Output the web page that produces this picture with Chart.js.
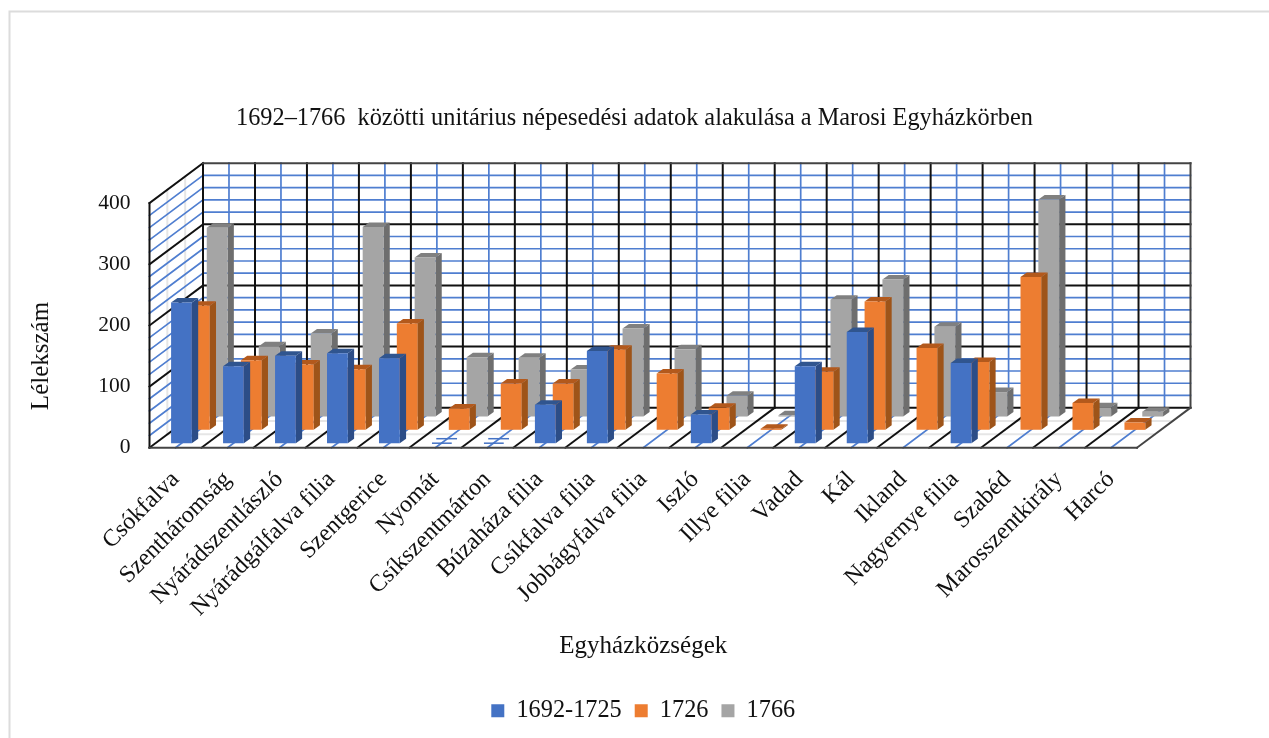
<!DOCTYPE html>
<html lang="hu">
<head>
<meta charset="utf-8">
<title>Unitárius népesedési adatok</title>
<script src="https://cdn.jsdelivr.net/npm/chart.js@4/dist/chart.umd.min.js"></script>
<style>
    html, body { margin: 0; padding: 0; background: #fff; }
    canvas { display: block; }
</style>
</head>
<body>
<canvas id="populationChart" width="1269" height="738"></canvas>
<script>
const categories = [
    'Csókfalva', 'Szentháromság', 'Nyárádszentlászló', 'Nyárádgálfalva filia', 'Szentgerice',
    'Nyomát', 'Csíkszentmárton', 'Búzaháza filia', 'Csíkfalva filia', 'Jobbágyfalva filia',
    'Iszló', 'Illye filia', 'Vadad', 'Kál', 'Ikland', 'Nagyernye filia', 'Szabéd',
    'Marosszentkirály', 'Harcó'
];
const seriesNames = ['1692-1725', '1726', '1766'];
const values1692 = [230, 126, 143, 147, 139, 0, 0, 63, 151, null, 47, null, 126, 182, null, 131, null, null, null];
const values1726 = [203, 114, 107, 99, 174, 35, 76, 76, 131, 92, 36, 2, 95, 210, 134, 111, 250, 44, 12];
const values1766 = [309, 115, 136, 310, 260, 97, 96, 77, 144, 110, 34, 2, 191, 224, 147, 40, 355, 15, 8];

const FONT = '"Liberation Serif", "Times New Roman", serif';

// Oblique projection: how far the back wall sits from the front plane
const DEPTH_X = 53.5;
const DEPTH_Y = 40;
const BAR_DEPTH_X = 6.3;
const BAR_DEPTH_Y = 4.5;
const FIRST_SLOT_X = 6;
const FIRST_SLOT_Y = 4.5;

const FRONT_COLORS = ['#4472C4', '#ED7D31', '#A5A5A5'];
const SIDE_COLORS = ['#2C4D87', '#9E5419', '#6E6E6E'];
const TOP_COLORS = ['#30558F', '#B3591C', '#808080'];

function line(ctx, x1, y1, x2, y2) {
    ctx.beginPath();
    ctx.moveTo(x1, y1);
    ctx.lineTo(x2, y2);
    ctx.stroke();
}

function slotOffset(datasetIndex) {
    return {
        x: FIRST_SLOT_X + datasetIndex * DEPTH_X / 3,
        y: -FIRST_SLOT_Y - datasetIndex * DEPTH_Y / 3
    };
}

// Back wall, left wall and floor
function drawWalls(chart) {
    const ctx = chart.ctx;
    const { x: xScale, y: yScale } = chart.scales;
    const left = xScale.left;
    const right = xScale.right;
    const floor = yScale.getPixelForValue(0);
    const ceiling = yScale.getPixelForValue(400);
    const step = xScale.width / categories.length;

    ctx.save();
    ctx.lineCap = 'square';

    // faint depth lines on the floor and the left wall
    ctx.strokeStyle = '#e6e6e6';
    ctx.lineWidth = 2;
    [1 / 3, 2 / 3].forEach(f => {
        const dx = DEPTH_X * f;
        const dy = DEPTH_Y * f;
        line(ctx, left + dx, floor - dy, right + dx, floor - dy);
        line(ctx, left + dx, floor - dy, left + dx, ceiling - dy);
    });

    // minor grid every 20 and at category centres
    ctx.strokeStyle = '#4f7ed0';
    ctx.lineWidth = 1.7;
    for (let v = 20; v < 400; v += 20) {
        if (v % 100 === 0) continue;
        const py = yScale.getPixelForValue(v);
        line(ctx, left, py, left + DEPTH_X, py - DEPTH_Y);
        line(ctx, left + DEPTH_X, py - DEPTH_Y, right + DEPTH_X, py - DEPTH_Y);
    }
    categories.forEach((c, i) => {
        const px = xScale.getPixelForValue(i);
        line(ctx, px, floor, px + DEPTH_X, floor - DEPTH_Y);
        line(ctx, px + DEPTH_X, floor - DEPTH_Y, px + DEPTH_X, ceiling - DEPTH_Y);
    });

    // major grid every 100 and at category borders
    ctx.strokeStyle = '#111';
    ctx.lineWidth = 2;
    for (let v = 100; v <= 300; v += 100) {
        const py = yScale.getPixelForValue(v);
        line(ctx, left, py, left + DEPTH_X, py - DEPTH_Y);
        line(ctx, left + DEPTH_X, py - DEPTH_Y, right + DEPTH_X, py - DEPTH_Y);
    }
    line(ctx, left, ceiling, left + DEPTH_X, ceiling - DEPTH_Y);
    line(ctx, left, floor, left, ceiling);
    for (let i = 0; i <= categories.length; i++) {
        const px = left + i * step;
        if (i < categories.length) line(ctx, px, floor, px + DEPTH_X, floor - DEPTH_Y);
        if (i > 0 && i < categories.length) line(ctx, px + DEPTH_X, floor - DEPTH_Y, px + DEPTH_X, ceiling - DEPTH_Y);
    }
    line(ctx, left + DEPTH_X, floor - DEPTH_Y, left + DEPTH_X, ceiling - DEPTH_Y);
    line(ctx, left + DEPTH_X, floor - DEPTH_Y, right + DEPTH_X, floor - DEPTH_Y);

    // outer frame
    ctx.strokeStyle = '#444';
    line(ctx, left + DEPTH_X, ceiling - DEPTH_Y, right + DEPTH_X, ceiling - DEPTH_Y);
    line(ctx, right + DEPTH_X, ceiling - DEPTH_Y, right + DEPTH_X, floor - DEPTH_Y);
    line(ctx, right, floor, right + DEPTH_X, floor - DEPTH_Y);
    line(ctx, left, floor, right, floor);
    ctx.restore();
}

// Top and side faces; the front face is the library's own bar
function drawBarFaces(ctx, meta, index) {
    const values = chartDatasets[index].data;
    meta.data.forEach((bar, i) => {
        if (values[i] === null) return;
        const halfW = bar.width / 2;
        const l = bar.x - halfW;
        const r = bar.x + halfW;
        if (values[i] === 0) {
            // zero-height bars only leave two thin edges on the floor
            ctx.strokeStyle = FRONT_COLORS[index];
            ctx.lineWidth = 1.5;
            line(ctx, l + 1, bar.base, r, bar.base);
            line(ctx, l + BAR_DEPTH_X - 1, bar.base - BAR_DEPTH_Y, r + BAR_DEPTH_X - 1, bar.base - BAR_DEPTH_Y);
            return;
        }
        ctx.fillStyle = SIDE_COLORS[index];
        ctx.beginPath();
        ctx.moveTo(r, bar.y);
        ctx.lineTo(r + BAR_DEPTH_X, bar.y - BAR_DEPTH_Y);
        ctx.lineTo(r + BAR_DEPTH_X, bar.base - BAR_DEPTH_Y);
        ctx.lineTo(r, bar.base);
        ctx.closePath();
        ctx.fill();
        ctx.fillStyle = TOP_COLORS[index];
        ctx.beginPath();
        ctx.moveTo(l, bar.y);
        ctx.lineTo(l + BAR_DEPTH_X, bar.y - BAR_DEPTH_Y);
        ctx.lineTo(r + BAR_DEPTH_X, bar.y - BAR_DEPTH_Y);
        ctx.lineTo(r, bar.y);
        ctx.closePath();
        ctx.fill();
    });
}

const bars3dPlugin = {
    id: 'bars3d',
    beforeDraw(chart) {
        // thin frame around the chart
        const ctx = chart.ctx;
        ctx.save();
        ctx.strokeStyle = '#dcdcdc';
        ctx.lineWidth = 2;
        ctx.beginPath();
        ctx.moveTo(9.5, 738);
        ctx.lineTo(9.5, 11.5);
        ctx.lineTo(1269, 11.5);
        ctx.stroke();
        ctx.restore();
    },
    beforeDatasetsDraw(chart) {
        drawWalls(chart);
    },
    beforeDatasetDraw(chart, args) {
        const ctx = chart.ctx;
        const offset = slotOffset(args.index);
        ctx.save();
        ctx.translate(offset.x, offset.y);
        drawBarFaces(ctx, args.meta, args.index);
    },
    afterDatasetDraw(chart) {
        chart.ctx.restore();
    },
    afterDraw(chart) {
        // value axis caption sits below the axis centre, so it is placed by hand
        const ctx = chart.ctx;
        ctx.save();
        ctx.translate(41, 356);
        ctx.rotate(-Math.PI / 2);
        ctx.font = `25px ${FONT}`;
        ctx.fillStyle = '#111';
        ctx.textAlign = 'center';
        ctx.textBaseline = 'middle';
        ctx.fillText('Lélekszám', 0, 0);
        ctx.restore();
    }
};

const chartDatasets = [values1692, values1726, values1766].map((data, i) => ({
    label: seriesNames[i],
    data: data,
    backgroundColor: FRONT_COLORS[i],
    borderWidth: 0,
    clip: false
}));

new Chart(document.getElementById('populationChart'), {
    type: 'bar',
    data: { labels: categories, datasets: chartDatasets },
    plugins: [bars3dPlugin],
    options: {
        responsive: false,
        animation: false,
        layout: { padding: { left: 0, right: 0, top: 0, bottom: 5 } },
        datasets: { bar: { grouped: false, categoryPercentage: 1, barPercentage: 0.4 } },
        plugins: {
            tooltip: { enabled: false },
            title: {
                display: true,
                text: '1692–1766  közötti unitárius népesedési adatok alakulása a Marosi Egyházkörben',
                color: '#111',
                font: { family: FONT, size: 24.3, weight: 'normal' },
                padding: { top: 104, bottom: 70 }
            },
            legend: {
                position: 'bottom',
                fullSize: false,
                labels: {
                    color: '#111',
                    font: { family: FONT, size: 24.3 },
                    boxWidth: 13,
                    boxHeight: 13,
                    padding: 13
                }
            }
        },
        scales: {
            x: {
                grid: { display: false, drawTicks: false },
                border: { display: false },
                ticks: {
                    color: '#111',
                    font: { family: FONT, size: 24 },
                    autoSkip: false,
                    maxRotation: 45,
                    minRotation: 45,
                    padding: 18
                },
                title: {
                    display: true,
                    text: 'Egyházközségek',
                    color: '#111',
                    font: { family: FONT, size: 25 },
                    padding: { top: 0, bottom: 24 }
                },
                afterFit: scale => { scale.height = 238; }
            },
            y: {
                min: 0,
                max: 400,
                grid: { display: false, drawTicks: false },
                border: { display: false },
                ticks: {
                    stepSize: 100,
                    color: '#111',
                    font: { family: FONT, size: 21.5 },
                    padding: 19
                },
                afterFit: scale => { scale.width = 149.5; }
            },
            // empty axis that keeps the plot clear of the depth on the right
            yRight: {
                position: 'right',
                grid: { display: false, drawTicks: false },
                border: { display: false },
                ticks: { display: false },
                afterFit: scale => { scale.width = 132; }
            }
        }
    }
});
</script>
</body>
</html>
